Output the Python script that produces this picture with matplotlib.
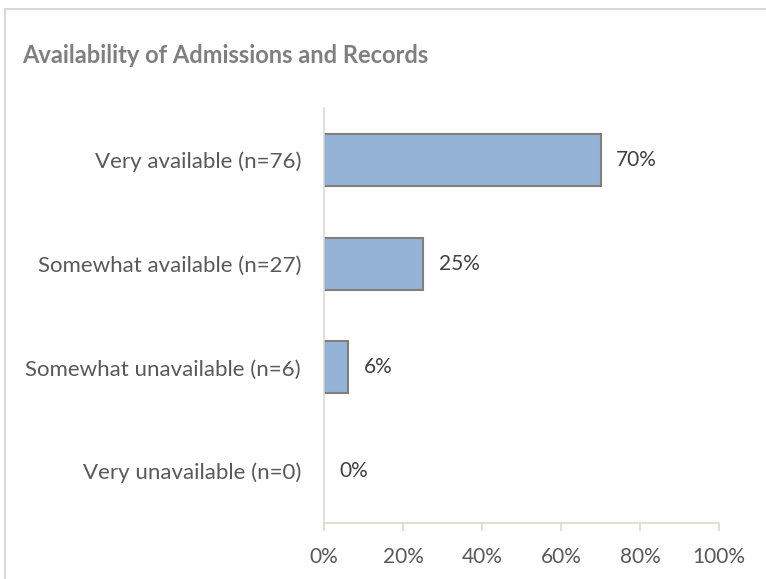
import matplotlib
matplotlib.use("Agg")
import matplotlib.pyplot as plt
from matplotlib.patches import Rectangle
from matplotlib.ticker import FuncFormatter

categories = [
    "Very available (n=76)",
    "Somewhat available (n=27)",
    "Somewhat unavailable (n=6)",
    "Very unavailable (n=0)",
]
percents = [70, 25, 6, 0]
x_ticks = [0, 20, 40, 60, 80, 100]

plt.rcParams["font.family"] = ["Lato", "DejaVu Sans"]

W, H = 766, 579
fig = plt.figure(figsize=(W / 100, H / 100), dpi=100)
ax = fig.add_axes([324 / W, 1 - 523 / H, (719 - 324) / W, (523 - 108) / H])

# outer chart border (Excel chart area)
fig.patches.append(Rectangle((4.5 / W, -0.1), 1.2, 1 - 9 / H + 0.1,
                             transform=fig.transFigure, fill=False,
                             edgecolor="#D9D9D9", linewidth=1.5))

y = list(range(len(categories)))
edges = ["#7F7F7F" if p > 0 else "none" for p in percents]
ax.barh(y, percents, height=0.5, color="#95B3D7", edgecolor=edges, linewidth=1.5)

for yi, p in zip(y, percents):
    ax.text(p + 4.0, yi, f"{p}%", va="center", ha="left",
            fontsize=15, color="#404040")

ax.set_xlim(0, 100)
ax.set_ylim(3.5, -0.5)
ax.set_xticks(x_ticks)
ax.xaxis.set_major_formatter(FuncFormatter(lambda v, _: f"{v:.0f}%"))
ax.set_yticks(y)
ax.set_yticklabels(categories)

for side in ("top", "right"):
    ax.spines[side].set_visible(False)
ax.spines["left"].set_color("#D9D9D9")
ax.spines["left"].set_linewidth(1.2)
ax.spines["bottom"].set_color("#DDD9C3")
ax.spines["bottom"].set_linewidth(1.2)

ax.tick_params(axis="x", direction="out", length=6, width=1.2, color="#DDD9C3",
               labelsize=15, labelcolor="#595959", pad=11)
ax.tick_params(axis="y", length=0, labelsize=16, labelcolor="#595959", pad=16.5)

fig.text(22 / W, 1 - 63 / H, "Availability of Admissions and Records",
         fontsize=17, fontweight="bold", color="#7F7F7F", ha="left", va="baseline")

fig.savefig("out.png", dpi=100)
